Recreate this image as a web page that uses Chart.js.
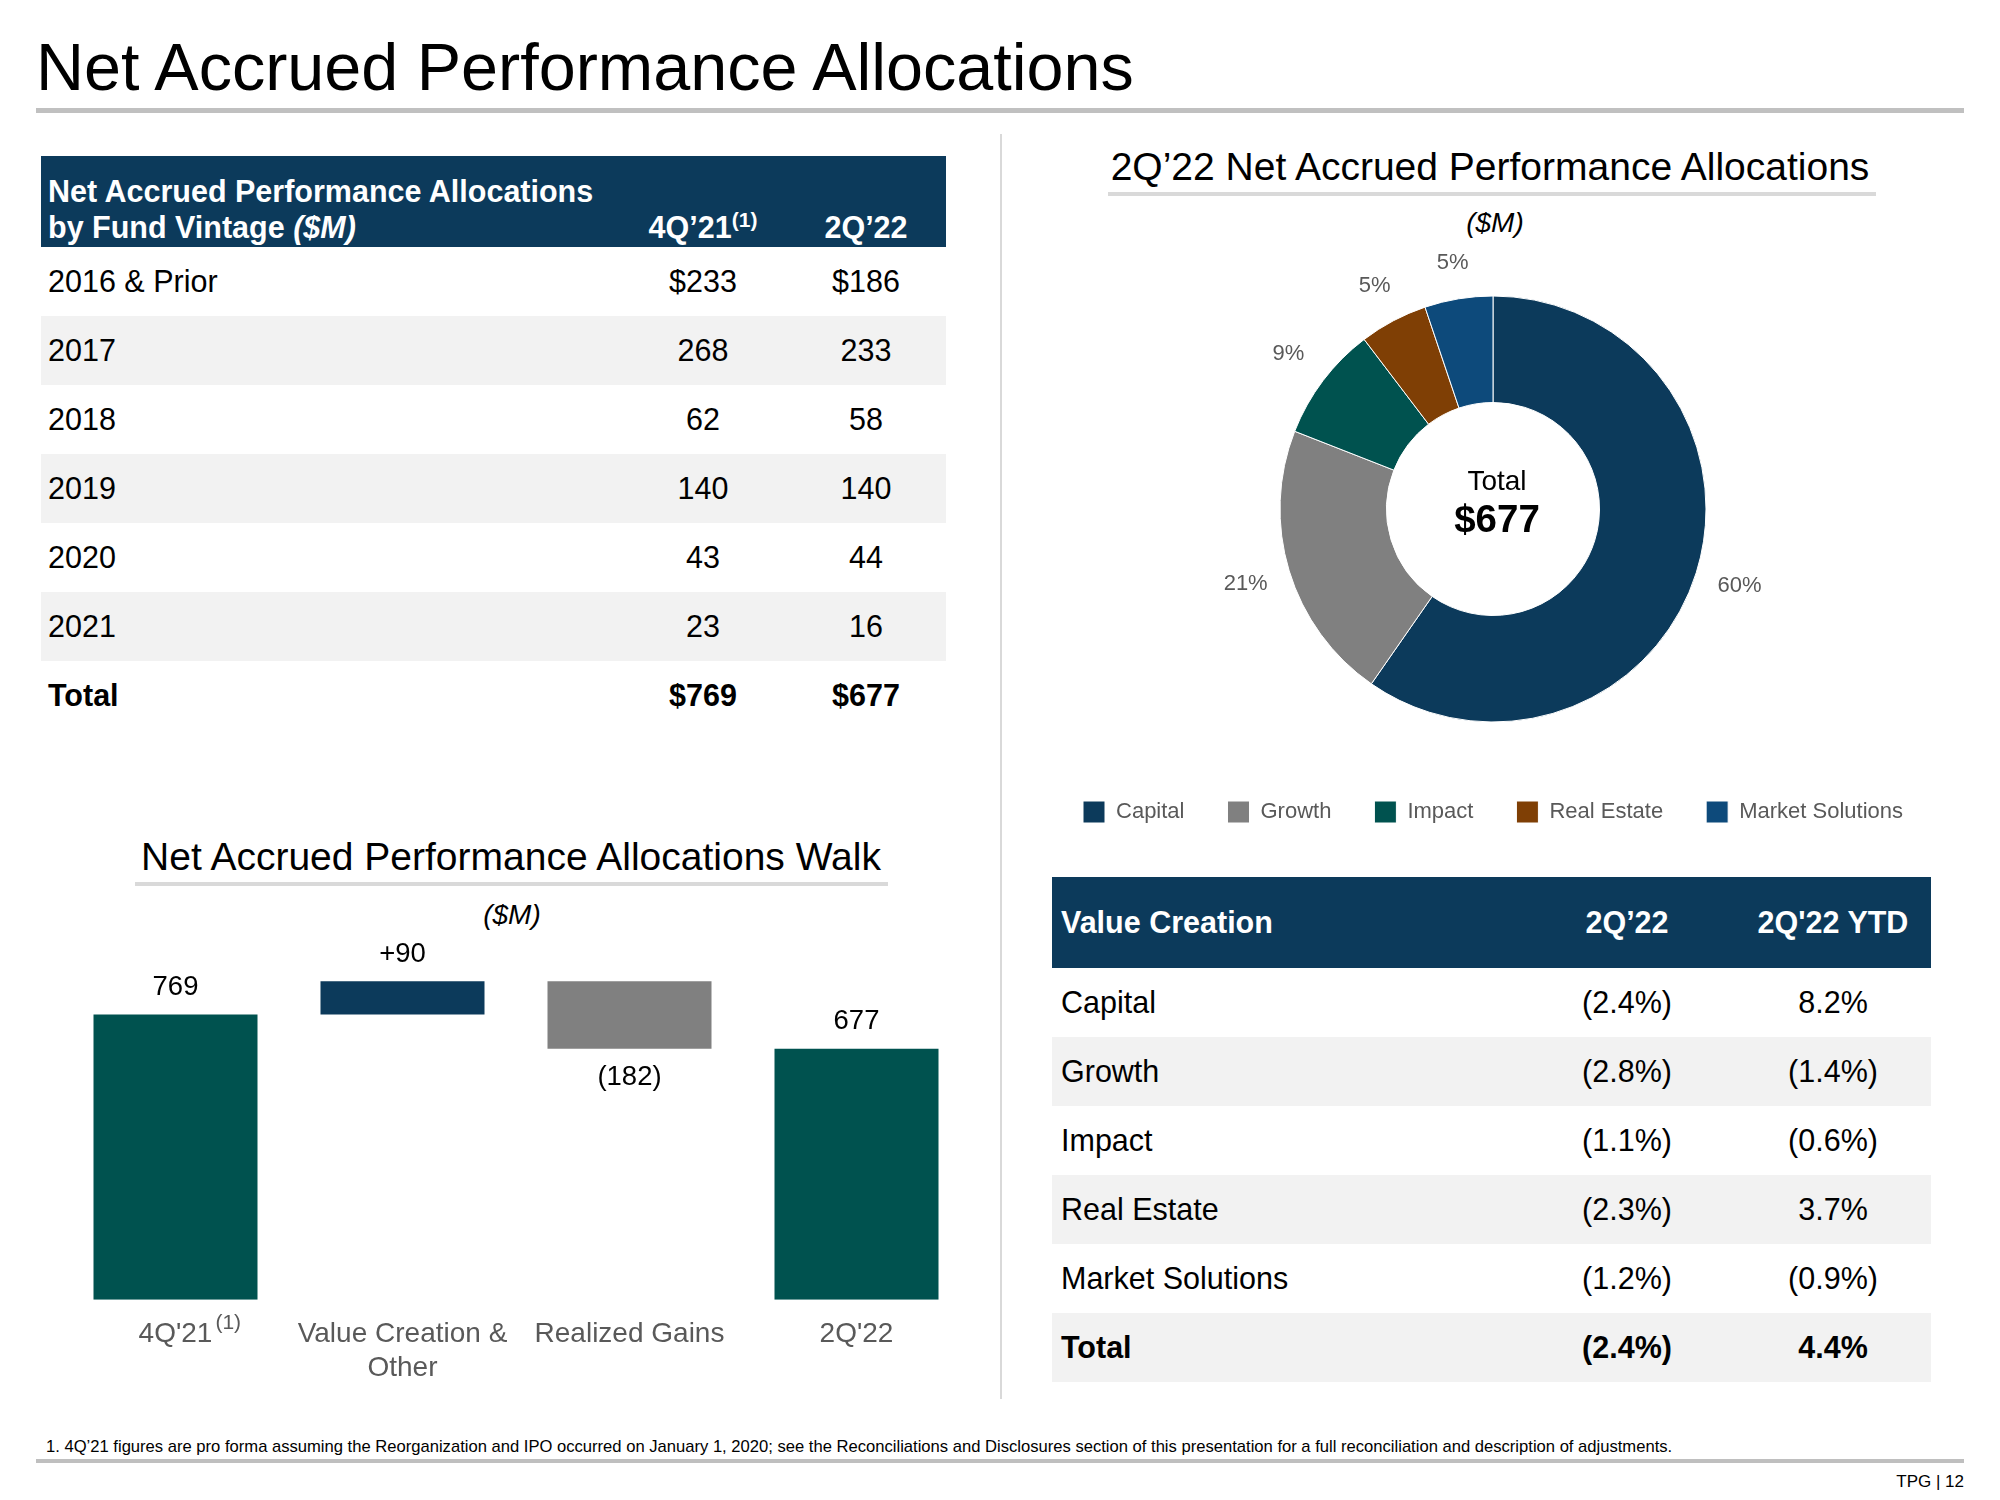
<!DOCTYPE html>
<html>
<head>
<meta charset="utf-8">
<title>Net Accrued Performance Allocations</title>
<script src="https://cdn.jsdelivr.net/npm/chart.js@4.4.1/dist/chart.umd.min.js"></script>
<style>
  html, body { margin:0; padding:0; background:#fff; }
  body { width:2000px; height:1500px; position:relative; overflow:hidden;
         font-family:'Liberation Sans', Arial, Helvetica, sans-serif; color:#000; }
  .abs { position:absolute; white-space:nowrap; }
  .rule { position:absolute; }
  .hdr { background:#0c3a5b; color:#fff; font-weight:bold; }
  .stripe { background:#f2f2f2; }
  sup.fn { font-size:0.69em; position:relative; top:-0.5em; vertical-align:baseline; line-height:0; }
</style>
</head>
<body>

<div class="abs" style="left:36px;top:27px;height:80px;line-height:80px;font-size:66.5px;">Net Accrued Performance Allocations</div>
<div class="rule" style="left:36px;top:108px;width:1928px;height:5px;background:#c0c0c0"></div>
<div class="rule" style="left:1000px;top:134px;width:2px;height:1265px;background:#d9d9d9"></div>

<div id="vintageTable" class="abs" style="left:41px;top:156px;width:905px;height:574px;"></div>

<div class="abs" style="left:1100px;top:142px;width:780px;height:50px;line-height:50px;font-size:39px;text-align:center;">2Q’22 Net Accrued Performance Allocations</div>
<div class="rule" style="left:1108px;top:192px;width:768px;height:4px;background:#d9d9d9"></div>
<div class="abs" style="left:1395px;top:206px;width:200px;height:34px;line-height:34px;font-size:28px;font-style:italic;text-align:center;">($M)</div>
<canvas id="donut" class="abs" width="960" height="633" style="left:1013px;top:200px;"></canvas>

<div class="abs" style="left:111px;top:832px;width:800px;height:50px;line-height:50px;font-size:39px;text-align:center;">Net Accrued Performance Allocations Walk</div>
<div class="rule" style="left:135px;top:882px;width:753px;height:4px;background:#d9d9d9"></div>
<div class="abs" style="left:412px;top:898px;width:200px;height:34px;line-height:34px;font-size:28px;font-style:italic;text-align:center;">($M)</div>
<canvas id="walk" class="abs" width="908" height="517" style="left:62px;top:900px;"></canvas>

<div id="vcTable" class="abs" style="left:1052px;top:877px;width:879px;height:505px;"></div>

<div class="abs" style="left:46px;top:1437px;height:20px;line-height:20px;font-size:16.6px;">1. 4Q’21 figures are pro forma assuming the Reorganization and IPO occurred on January 1, 2020; see the Reconciliations and Disclosures section of this presentation for a full reconciliation and description of adjustments.</div>
<div class="rule" style="left:36px;top:1459px;width:1928px;height:4px;background:#bfbfbf"></div>
<div class="abs" style="right:36px;top:1472px;height:20px;line-height:20px;font-size:17px;">TPG | 12</div>

<script>
// ---------------- DATA ----------------
const vintageLabels = ['2016 & Prior', '2017', '2018', '2019', '2020', '2021'];
const vintage4Q21 = [233, 268, 62, 140, 43, 23];
const vintage2Q22 = [186, 233, 58, 140, 44, 16];

// 2Q'22 net accrued performance allocations by platform ($M)
const segmentLabels = ['Capital', 'Growth', 'Impact', 'Real Estate', 'Market Solutions'];
const segmentValues = [404, 144, 59, 35, 35];

const walkCategories = ["4Q'21", ['Value Creation &', 'Other'], 'Realized Gains', "2Q'22"];
const walkValues = [769, 90, -182, 677];
const walkValueLabels = ['769', '+90', '(182)', '677'];

const vcLabels = ['Capital', 'Growth', 'Impact', 'Real Estate', 'Market Solutions', 'Total'];
const vc2Q22 = [-2.4, -2.8, -1.1, -2.3, -1.2, -2.4];
const vc2Q22YTD = [8.2, -1.4, -0.6, 3.7, -0.9, 4.4];

// ---------------- STYLES ----------------
const FONT = "'Liberation Sans', Arial, Helvetica, sans-serif";
const NAVY = '#0c3a5b', GRAY = '#808080', TEAL = '#00524f', BROWN = '#7f3f05', BLUE = '#0d4a7b';
const segmentColors = [NAVY, GRAY, TEAL, BROWN, BLUE];
const walkColors = [TEAL, NAVY, GRAY, TEAL];

const sum = a => a.reduce((s, v) => s + v, 0);

// ---------------- LEFT TABLE ----------------
(function () {
  const el = document.getElementById('vintageTable');
  const ROW = 69, HDR = 91, C1 = 662, C2 = 825, W = 905;
  let html = '<div class="hdr abs" style="left:0;top:0;width:' + W + 'px;height:' + HDR + 'px;"></div>';
  html += '<div class="abs" style="left:7px;top:17px;height:36px;line-height:36px;font-size:30.5px;font-weight:bold;color:#fff;">Net Accrued Performance Allocations</div>';
  html += '<div class="abs" style="left:7px;top:53px;height:36px;line-height:36px;font-size:30.5px;font-weight:bold;color:#fff;">by Fund Vintage <i>($M)</i></div>';
  html += '<div class="abs" style="left:' + (C1 - 100) + 'px;top:53px;width:200px;height:36px;line-height:36px;font-size:30.5px;font-weight:bold;color:#fff;text-align:center;">4Q’21<sup class="fn">(1)</sup></div>';
  html += '<div class="abs" style="left:' + (C2 - 100) + 'px;top:53px;width:200px;height:36px;line-height:36px;font-size:30.5px;font-weight:bold;color:#fff;text-align:center;">2Q’22</div>';
  const rows = vintageLabels.map((l, i) => [l, (i === 0 ? '$' : '') + vintage4Q21[i], (i === 0 ? '$' : '') + vintage2Q22[i], false]);
  rows.push(['Total', '$' + sum(vintage4Q21), '$' + sum(vintage2Q22), true]);
  rows.forEach((r, i) => {
    const top = HDR + i * ROW;
    const fw = r[3] ? 'bold' : 'normal';
    if (i % 2 === 1) html += '<div class="stripe abs" style="left:0;top:' + top + 'px;width:' + W + 'px;height:' + ROW + 'px;"></div>';
    const cell = (left, w, align, txt) => '<div class="abs" style="left:' + left + 'px;top:' + top + 'px;width:' + w + 'px;height:' + ROW + 'px;line-height:' + ROW + 'px;font-size:30.5px;font-weight:' + fw + ';text-align:' + align + ';">' + txt + '</div>';
    html += cell(7, 400, 'left', r[0].replace('&', '&amp;'));
    html += cell(C1 - 100, 200, 'center', r[1]);
    html += cell(C2 - 100, 200, 'center', r[2]);
  });
  el.innerHTML = html;
})();

// ---------------- RIGHT TABLE ----------------
(function () {
  const el = document.getElementById('vcTable');
  const ROW = 69, HDR = 91, C1 = 575, C2 = 781, W = 879;
  const fmt = v => v < 0 ? '(' + Math.abs(v).toFixed(1) + '%)' : v.toFixed(1) + '%';
  let html = '<div class="hdr abs" style="left:0;top:0;width:' + W + 'px;height:' + HDR + 'px;"></div>';
  const hcell = (left, w, align, txt) => '<div class="abs" style="left:' + left + 'px;top:0;width:' + w + 'px;height:' + HDR + 'px;line-height:' + HDR + 'px;font-size:30.5px;font-weight:bold;color:#fff;text-align:' + align + ';">' + txt + '</div>';
  html += hcell(9, 400, 'left', 'Value Creation');
  html += hcell(C1 - 100, 200, 'center', '2Q’22');
  html += hcell(C2 - 100, 200, 'center', "2Q'22 YTD");
  vcLabels.forEach((l, i) => {
    const top = HDR + i * ROW;
    const fw = i === vcLabels.length - 1 ? 'bold' : 'normal';
    if (i % 2 === 1) html += '<div class="stripe abs" style="left:0;top:' + top + 'px;width:' + W + 'px;height:' + ROW + 'px;"></div>';
    const cell = (left, w, align, txt) => '<div class="abs" style="left:' + left + 'px;top:' + top + 'px;width:' + w + 'px;height:' + ROW + 'px;line-height:' + ROW + 'px;font-size:30.5px;font-weight:' + fw + ';text-align:' + align + ';">' + txt + '</div>';
    html += cell(9, 400, 'left', l);
    html += cell(C1 - 100, 200, 'center', fmt(vc2Q22[i]));
    html += cell(C2 - 100, 200, 'center', fmt(vc2Q22YTD[i]));
  });
  el.innerHTML = html;
})();

Chart.defaults.font.family = FONT;

// ---------------- DONUT ----------------
const donutTotal = sum(segmentValues);
const donutLabelPlugin = {
  id: 'donutLabels',
  afterDatasetsDraw(chart) {
    const ctx = chart.ctx;
    const meta = chart.getDatasetMeta(0);
    ctx.save();
    ctx.textAlign = 'center';
    ctx.textBaseline = 'middle';
    ctx.font = '22px ' + FONT;
    ctx.fillStyle = '#595959';
    meta.data.forEach((arc, i) => {
      const p = arc.getProps(['x', 'y', 'startAngle', 'endAngle', 'outerRadius'], true);
      const a = (p.startAngle + p.endAngle) / 2;
      const r = p.outerRadius + 34 + 12 * Math.abs(Math.cos(a));
      const pct = Math.round(segmentValues[i] / donutTotal * 100) + '%';
      ctx.fillText(pct, p.x + Math.cos(a) * r, p.y + Math.sin(a) * r);
    });
    const c = meta.data[0].getProps(['x', 'y'], true);
    ctx.fillStyle = '#000';
    ctx.font = '28px ' + FONT;
    ctx.fillText('Total', c.x + 4, c.y - 27);
    ctx.font = 'bold 38.5px ' + FONT;
    ctx.fillText('$' + donutTotal, c.x + 4, c.y + 12);
    ctx.restore();
  }
};

new Chart(document.getElementById('donut'), {
  type: 'doughnut',
  data: {
    labels: segmentLabels,
    datasets: [{
      data: segmentValues,
      backgroundColor: segmentColors,
      borderColor: '#ffffff',
      borderWidth: 1,
      radius: 213,
      cutout: '50%'
    }]
  },
  options: {
    responsive: false,
    animation: false,
    layout: { padding: { top: 60, bottom: 0, left: 0, right: 0 } },
    plugins: {
      legend: {
        position: 'bottom',
        labels: { boxWidth: 22, boxHeight: 22, padding: 43, color: '#595959', font: { size: 22, family: FONT } }
      },
      tooltip: { enabled: false }
    }
  },
  plugins: [donutLabelPlugin]
});

// ---------------- WATERFALL ----------------
let running = 0;
const walkRanges = walkValues.map((v, i) => {
  if (i === 0 || i === walkValues.length - 1) { running = v; return [0, v]; }
  const start = running; running += v; return [start, running];
});

const walkLabelPlugin = {
  id: 'walkLabels',
  afterDatasetsDraw(chart) {
    const ctx = chart.ctx;
    const meta = chart.getDatasetMeta(0);
    ctx.save();
    ctx.textAlign = 'center';
    ctx.textBaseline = 'middle';
    ctx.font = '27.5px ' + FONT;
    ctx.fillStyle = '#000';
    meta.data.forEach((bar, i) => {
      const p = bar.getProps(['x', 'y', 'base'], true);
      const top = Math.min(p.y, p.base), bottom = Math.max(p.y, p.base);
      if (walkValues[i] >= 0) ctx.fillText(walkValueLabels[i], p.x, top - 27);
      else ctx.fillText(walkValueLabels[i], p.x, bottom + 29);
    });
    ctx.restore();
  },
  afterDraw(chart) {
    const ctx = chart.ctx;
    const xs = chart.scales.x;
    const x = xs.getPixelForTick(0);
    ctx.save();
    ctx.font = '28px ' + FONT;
    const w = ctx.measureText(walkCategories[0]).width;
    ctx.font = '21px ' + FONT;
    ctx.fillStyle = '#595959';
    ctx.textAlign = 'left';
    ctx.textBaseline = 'middle';
    ctx.fillText('(1)', x + w / 2 + 3, chart.chartArea.bottom + 18 + 16.8 - 11.5);
    ctx.restore();
  }
};

new Chart(document.getElementById('walk'), {
  type: 'bar',
  data: {
    labels: walkCategories,
    datasets: [{
      data: walkRanges,
      backgroundColor: walkColors,
      borderWidth: 0,
      barPercentage: 0.7225,
      categoryPercentage: 1.0
    }]
  },
  options: {
    responsive: false,
    animation: false,
    layout: { padding: { top: 40, bottom: 14, left: 0, right: 0 } },
    plugins: { legend: { display: false }, tooltip: { enabled: false } },
    scales: {
      x: {
        grid: { display: false, drawTicks: false },
        border: { display: false },
        ticks: { color: '#595959', font: { size: 28, family: FONT }, padding: 18, maxRotation: 0, autoSkip: false }
      },
      y: { display: false, min: 0, max: 970 }
    }
  },
  plugins: [walkLabelPlugin]
});
</script>
</body>
</html>
